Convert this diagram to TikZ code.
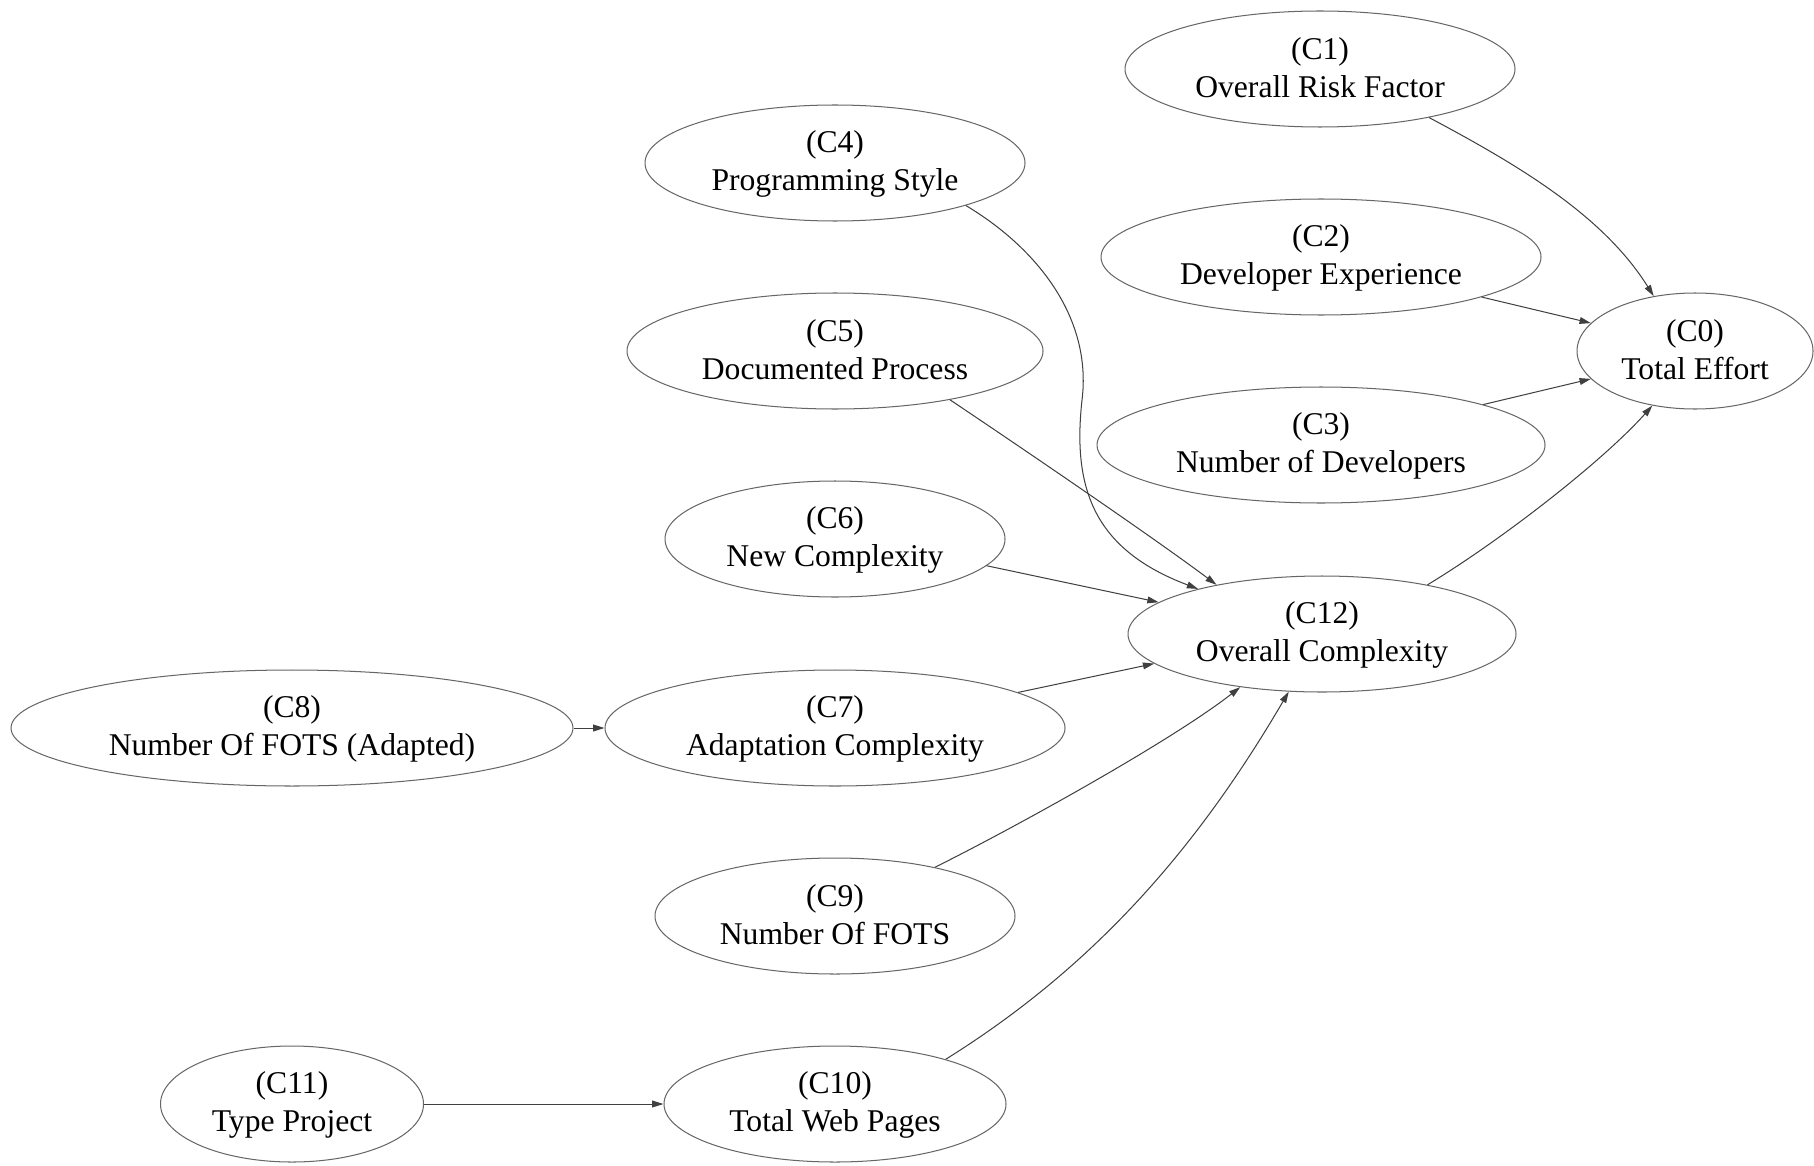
\documentclass[tikz,border=0pt]{standalone}
\usepackage{fontspec}
\setmainfont{Liberation Serif}
\usetikzlibrary{arrows.meta,shapes.geometric}
% strut that keeps both text lines of a concept at the same height
\newcommand\lnstrut{\rule[-1.6pt]{0pt}{12pt}}
\begin{document}
\begin{tikzpicture}[x=0.4425pt,y=-0.4425pt,
  concept/.style={ellipse, draw=black!60, line width=0.45pt, inner sep=0pt,
    minimum height=116*0.4425pt, minimum width=#1*0.4425pt, align=center,
    font=\fontsize{14}{16.8}\selectfont},
  link/.style={draw=black!75, line width=0.45pt, -{Triangle[length=5pt,width=3pt]}}]
\useasboundingbox (0,0) rectangle (1814,1165);
\fill[white] (0,0) rectangle (1814,1165);

% concepts
\node[concept=236] (c0)  at (1695,351)  {\lnstrut(C0)\\\lnstrut Total Effort};
\node[concept=390] (c1)  at (1320,69)   {\lnstrut(C1)\\\lnstrut Overall Risk Factor};
\node[concept=440] (c2)  at (1321,257)  {\lnstrut(C2)\\\lnstrut Developer Experience};
\node[concept=448] (c3)  at (1321,445)  {\lnstrut(C3)\\\lnstrut Number of Developers};
\node[concept=380] (c4)  at (835,163)   {\lnstrut(C4)\\\lnstrut Programming Style};
\node[concept=416] (c5)  at (835,351)   {\lnstrut(C5)\\\lnstrut Documented Process};
\node[concept=340] (c6)  at (835,539)   {\lnstrut(C6)\\\lnstrut New Complexity};
\node[concept=388] (c12) at (1322,634)  {\lnstrut(C12)\\\lnstrut Overall Complexity};
\node[concept=460] (c7)  at (835,728)   {\lnstrut(C7)\\\lnstrut Adaptation Complexity};
\node[concept=562] (c8)  at (292,728)   {\lnstrut(C8)\\\lnstrut Number Of FOTS (Adapted)};
\node[concept=360] (c9)  at (835,916)   {\lnstrut(C9)\\\lnstrut Number Of FOTS};
\node[concept=342] (c10) at (835,1104)  {\lnstrut(C10)\\\lnstrut Total Web Pages};
\node[concept=263] (c11) at (292,1104)  {\lnstrut(C11)\\\lnstrut Type Project};

% influences on total effort
\draw[link] (c1.-24) .. controls (1518,165) and (1603,215) .. (c0.127.9);
\draw[link] (c2.-14.1) -- (c0.165.6);
\draw[link] (c3.14.4) -- (c0.-165.8);
\draw[link] (c12.25.3) .. controls (1500,541) and (1602,462) .. (c0.232.5);

% influences on overall complexity
\draw[link] (c4.-18.3) .. controls (1040,250) and (1092,320) .. (1082,400)
  .. controls (1072,490) and (1095,550) .. (c12.160.5);
\draw[link] (c5.-23.4) .. controls (1010,440) and (1150,535) .. (c12.155.9);
\draw[link] (c6.-10.9) -- (c12.169.1);
\draw[link] (c7.11) -- (c12.190.8);
\draw[link] (c9.26.6) .. controls (1010,830) and (1170,742) .. (c12.213.8);
\draw[link] (c10.22.3) .. controls (1097,965) and (1199,845) .. (c12.240.8);

% chained inputs
\draw[link] (c8.east) -- (c7.west);
\draw[link] (c11.east) -- (c10.west);
\end{tikzpicture}
\end{document}
